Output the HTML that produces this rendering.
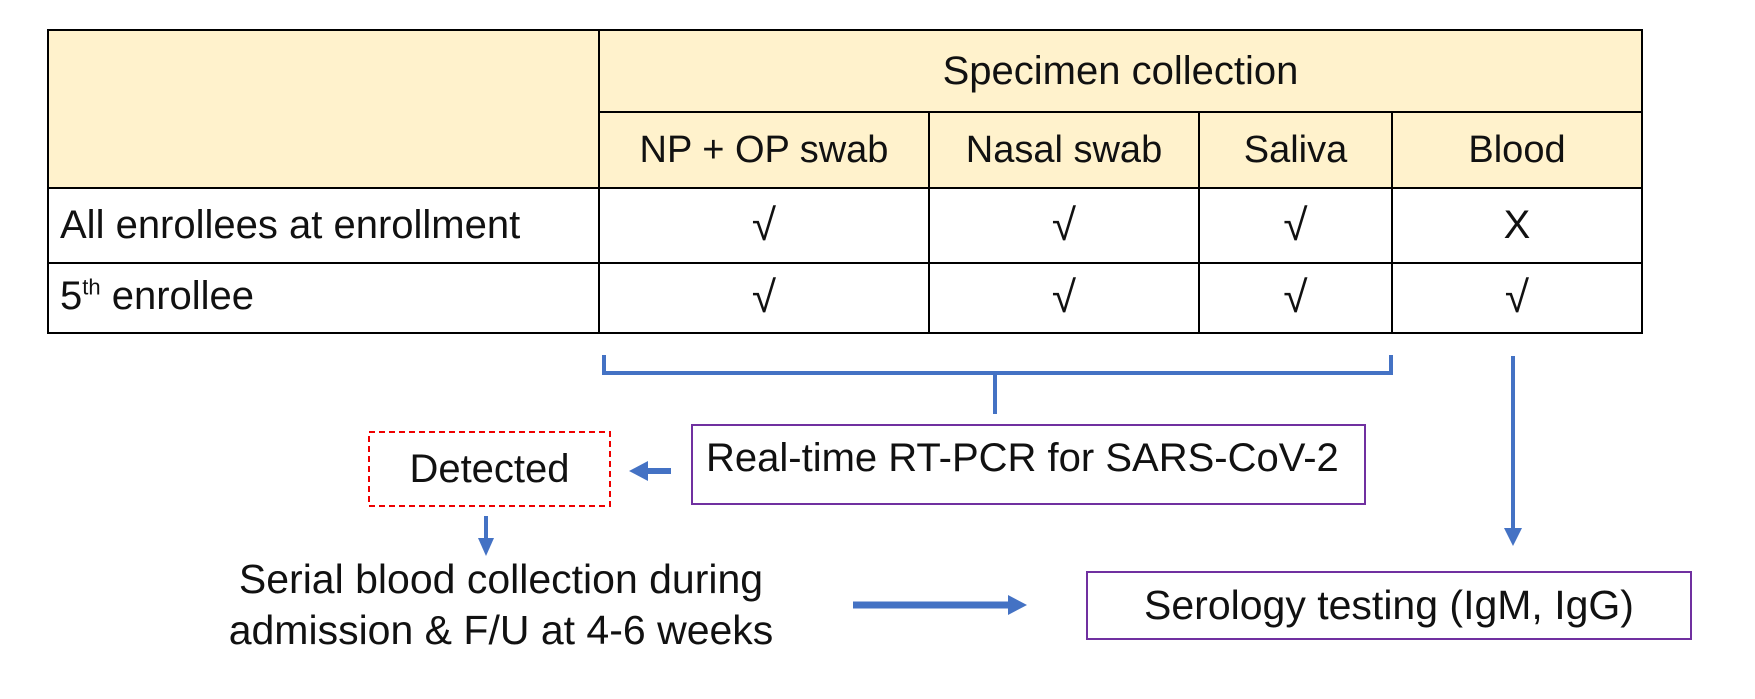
<!DOCTYPE html>
<html><head><style>
body{margin:0;width:1755px;height:699px;background:#fff;position:relative;overflow:hidden;font-family:"Liberation Sans",sans-serif;}
.t{position:absolute;color:#111;white-space:nowrap;}
.c{position:absolute;display:flex;align-items:center;justify-content:center;font-size:38px;color:#111;}
.k{font-size:44px;}
</style></head><body>
<svg width="1755" height="699" style="position:absolute;left:0;top:0">
<rect x="48" y="30" width="1594" height="158" fill="#fff2cc"/>
<g stroke="#000" stroke-width="2" fill="none">
<rect x="48" y="30" width="1594" height="303"/>
<line x1="599" y1="112" x2="1642" y2="112"/>
<line x1="48" y1="188" x2="1642" y2="188"/>
<line x1="48" y1="263" x2="1642" y2="263"/>
<line x1="599" y1="30" x2="599" y2="333"/>
<line x1="929" y1="112" x2="929" y2="333"/>
<line x1="1199" y1="112" x2="1199" y2="333"/>
<line x1="1392" y1="112" x2="1392" y2="333"/>
</g>
<g stroke="#4472c4" fill="none">
<path d="M604 355 V373 H1391 V355" stroke-width="4"/>
<line x1="995" y1="373" x2="995" y2="414" stroke-width="4"/>
<line x1="1513" y1="356" x2="1513" y2="528" stroke-width="4"/>
<line x1="671" y1="471" x2="645" y2="471" stroke-width="6"/>
<line x1="486" y1="516" x2="486" y2="540" stroke-width="4"/>
<line x1="853" y1="605" x2="1010" y2="605" stroke-width="7"/>
</g>
<g fill="#4472c4">
<polygon points="1504,528 1522,528 1513,546"/>
<polygon points="648,461 648,481 629,471"/>
<polygon points="478,538 494,538 486,556"/>
<polygon points="1008,595 1008,615 1027,605"/>
</g>
<rect x="369" y="432" width="241" height="74" fill="none" stroke="#e00" stroke-width="2" stroke-dasharray="6,4"/>
<rect x="692" y="425" width="673" height="79" fill="none" stroke="#7030a0" stroke-width="2"/>
<rect x="1087" y="572" width="604" height="67" fill="none" stroke="#7030a0" stroke-width="2"/>
</svg>
<div class="c" style="left:599px;top:30px;width:1043px;height:82px;font-size:40px">Specimen collection</div>
<div class="c" style="left:599px;top:112px;width:330px;height:76px">NP + OP swab</div>
<div class="c" style="left:929px;top:112px;width:270px;height:76px">Nasal swab</div>
<div class="c" style="left:1199px;top:112px;width:193px;height:76px">Saliva</div>
<div class="c" style="left:1392px;top:112px;width:250px;height:76px">Blood</div>
<div class="t" style="left:60px;top:203px;font-size:40px">All enrollees at enrollment</div>
<div class="t" style="left:60px;top:274px;font-size:40px">5<sup style="font-size:22px">th</sup> enrollee</div>
<div class="c k" style="left:599px;top:188px;width:330px;height:75px">√</div>
<div class="c k" style="left:929px;top:188px;width:270px;height:75px">√</div>
<div class="c k" style="left:1199px;top:188px;width:193px;height:75px">√</div>
<div class="c" style="left:1392px;top:188px;width:250px;height:75px;font-size:40px">X</div>
<div class="c k" style="left:599px;top:263px;width:330px;height:70px">√</div>
<div class="c k" style="left:929px;top:263px;width:270px;height:70px">√</div>
<div class="c k" style="left:1199px;top:263px;width:193px;height:70px">√</div>
<div class="c k" style="left:1392px;top:263px;width:250px;height:70px">√</div>
<div class="c" style="left:369px;top:432px;width:241px;height:74px;font-size:40px">Detected</div>
<div class="t" style="left:706px;top:436px;font-size:40px">Real-time RT-PCR for SARS-CoV-2</div>
<div class="t" style="left:180px;top:554px;width:642px;text-align:center;font-size:41px;line-height:51px">Serial blood collection during<br>admission &amp; F/U at 4-6 weeks</div>
<div class="c" style="left:1087px;top:572px;width:604px;height:67px;font-size:41px">Serology testing (IgM, IgG)</div>
</body></html>
